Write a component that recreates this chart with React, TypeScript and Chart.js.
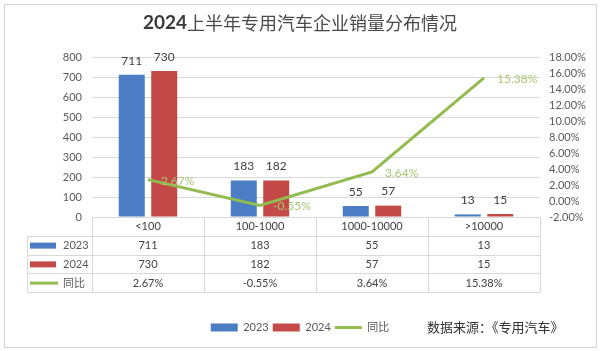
import React, { useEffect, useRef } from 'react';
import { Chart, registerables } from 'chart.js';

Chart.register(...registerables);

const titleYear = '2024';
const titleRest = '上半年专用汽车企业销量分布情况';
const sourceText = '数据来源：《专用汽车》';
const categories = ['<100', '100-1000', '1000-10000', '>10000'];
const seriesNames = ['2023', '2024', '同比'];
const sales2023 = [711, 183, 55, 13];
const sales2024 = [730, 182, 57, 15];
const yoy = [2.67, -0.55, 3.64, 15.38];

const BLUE = '#4A7DC4';
const RED = '#C44A47';
const GREEN = '#92BC4F';
const LABEL_GREEN = '#A9C774';
const TEXT = '#404040';
const AXIS_TEXT = '#595959';
const GRID = '#d9d9d9';
const FAMILY = "Lato, 'Noto Sans CJK SC', sans-serif";
const CJK = "'Noto Sans CJK SC', sans-serif";

const fmtPct = (v: number) => v.toFixed(2) + '%';

const customPlugin = {
  id: 'customDraw',
  beforeDraw(chart: any) {
    const ctx = chart.ctx;
    ctx.save();
    ctx.fillStyle = '#ffffff';
    ctx.fillRect(0, 0, chart.width, chart.height);
    ctx.strokeStyle = '#d4d4d4';
    ctx.lineWidth = 1;
    ctx.strokeRect(4.5, 4.5, 592, 343);
    ctx.restore();
  },
  afterDatasetsDraw(chart: any) {
    const ctx = chart.ctx;
    ctx.save();
    ctx.font = `12px ${FAMILY}`;
    ctx.fillStyle = TEXT;
    ctx.textAlign = 'center';
    ctx.textBaseline = 'middle';
    [0, 1].forEach((di) => {
      const meta = chart.getDatasetMeta(di);
      const vals = chart.data.datasets[di].data as number[];
      meta.data.forEach((el: any, i: number) => {
        ctx.fillText(String(vals[i]), el.x, el.y - 14);
      });
    });
    const lm = chart.getDatasetMeta(2);
    ctx.fillStyle = LABEL_GREEN;
    ctx.textAlign = 'left';
    lm.data.forEach((el: any, i: number) => {
      ctx.fillText(fmtPct(yoy[i]), el.x + 13, el.y + 1);
    });
    ctx.restore();
  },
  afterDraw(chart: any) {
    const ctx = chart.ctx;
    const { left, right, bottom } = chart.chartArea;
    ctx.save();
    ctx.textBaseline = 'middle';
    ctx.font = `bold 19px ${FAMILY}`;
    const w1 = ctx.measureText(titleYear).width;
    ctx.font = `18px ${CJK}`;
    const w2 = ctx.measureText(titleRest).width;
    const tx = 300 - (w1 + w2) / 2;
    ctx.fillStyle = '#3a3a3a';
    ctx.textAlign = 'left';
    ctx.font = `bold 19px ${FAMILY}`;
    ctx.fillText(titleYear, tx, 23);
    ctx.font = `18px ${CJK}`;
    ctx.fillStyle = '#4a4a4a';
    ctx.fillText(titleRest, tx + w1, 23);

    const n = categories.length;
    const cw = (right - left) / n;
    const rowH = 18.75;
    const tableLeft = 27;
    const top = Math.round(bottom);
    ctx.strokeStyle = GRID;
    ctx.lineWidth = 1;
    ctx.beginPath();
    for (let r = 1; r <= 4; r++) {
      const y = Math.round(top + r * rowH) + 0.5;
      ctx.moveTo(tableLeft, y);
      ctx.lineTo(right, y);
    }
    ctx.moveTo(left, top + 0.5);
    ctx.lineTo(right, top + 0.5);
    for (let i = 0; i <= n; i++) {
      const x = Math.round(left + i * cw) + 0.5;
      ctx.moveTo(x, top);
      ctx.lineTo(x, Math.round(top + 4 * rowH) + 0.5);
    }
    ctx.moveTo(tableLeft + 0.5, Math.round(top + rowH));
    ctx.lineTo(tableLeft + 0.5, Math.round(top + 4 * rowH) + 0.5);
    ctx.stroke();

    ctx.font = `11px ${FAMILY}`;
    ctx.fillStyle = TEXT;
    ctx.textAlign = 'center';
    ctx.textBaseline = 'middle';
    const rows: string[][] = [
      categories,
      sales2023.map(String),
      sales2024.map(String),
      yoy.map(fmtPct),
    ];
    rows.forEach((row, r) => {
      const cy = top + r * rowH + rowH / 2 + 0.5;
      row.forEach((t, i) => {
        const cx = chart.scales.x.getPixelForValue(i);
        ctx.fillText(t, cx, cy);
      });
    });
    const keyColors = [BLUE, RED, GREEN];
    seriesNames.forEach((name, k) => {
      const cy = top + (k + 1) * rowH + rowH / 2 + 0.5;
      if (k < 2) {
        ctx.fillStyle = keyColors[k];
        ctx.fillRect(30, cy - 3, 26, 6);
      } else {
        ctx.strokeStyle = GREEN;
        ctx.lineWidth = 3;
        ctx.beginPath();
        ctx.moveTo(30, cy);
        ctx.lineTo(58, cy);
        ctx.stroke();
      }
      ctx.fillStyle = AXIS_TEXT;
      ctx.textAlign = 'left';
      ctx.font = `11px ${FAMILY}`;
      ctx.fillText(name, 63, cy);
    });

    ctx.font = `13px ${CJK}`;
    ctx.fillStyle = '#333333';
    ctx.textAlign = 'left';
    ctx.fillText(sourceText, 427, 327);
    ctx.restore();
  },
};

export default function App() {
  const ref = useRef<HTMLCanvasElement>(null);
  useEffect(() => {
    document.body.style.margin = '0';
    const chart = new Chart(ref.current as HTMLCanvasElement, {
      type: 'bar',
      data: {
        labels: categories,
        datasets: [
          {
            type: 'bar',
            label: seriesNames[0],
            data: sales2023,
            backgroundColor: BLUE,
            yAxisID: 'y',
            order: 2,
            categoryPercentage: 0.58,
            barPercentage: 0.8,
          },
          {
            type: 'bar',
            label: seriesNames[1],
            data: sales2024,
            backgroundColor: RED,
            yAxisID: 'y',
            order: 2,
            categoryPercentage: 0.58,
            barPercentage: 0.8,
          },
          {
            type: 'line',
            label: seriesNames[2],
            data: yoy,
            borderColor: GREEN,
            backgroundColor: GREEN,
            borderWidth: 3,
            pointRadius: 0,
            tension: 0,
            yAxisID: 'y1',
            order: 1,
          },
        ] as any,
      },
      options: {
        responsive: false,
        animation: false,
        layout: { padding: { top: 57, left: 0, right: 0, bottom: 8 } },
        plugins: {
          title: { display: false },
          tooltip: { enabled: false },
          legend: {
            position: 'bottom',
            labels: {
              usePointStyle: true,
              pointStyleWidth: 27,
              boxHeight: 8,
              padding: 4,
              color: AXIS_TEXT,
              font: { size: 11, family: FAMILY },
              sort: (a: any, b: any) => a.datasetIndex - b.datasetIndex,
              generateLabels: (c: any) => {
                const items = (Chart.defaults.plugins.legend.labels as any).generateLabels(c);
                items.forEach((it: any) => {
                  if (it.datasetIndex === 2) {
                    it.pointStyle = 'line';
                    it.strokeStyle = GREEN;
                    it.lineWidth = 3;
                  } else {
                    it.pointStyle = 'rect';
                    it.lineWidth = 0;
                  }
                });
                return items;
              },
            },
          },
        },
        scales: {
          x: {
            grid: { display: false },
            border: { display: false },
            ticks: { display: false },
            afterFit: (s: any) => {
              s.height = 101;
            },
          },
          y: {
            position: 'left',
            min: 0,
            max: 800,
            ticks: { stepSize: 100, autoSkip: false, padding: 10, color: AXIS_TEXT, font: { size: 11, family: FAMILY } },
            grid: { color: GRID, drawTicks: false },
            border: { display: false },
            afterFit: (s: any) => {
              s.width = 92;
            },
          },
          y1: {
            position: 'right',
            min: -2,
            max: 18,
            ticks: {
              stepSize: 2,
              autoSkip: false,
              padding: 9,
              color: AXIS_TEXT,
              font: { size: 11, family: FAMILY },
              callback: (v: any) => fmtPct(Number(v)),
            },
            grid: { display: false, drawTicks: false },
            border: { display: false },
            afterFit: (s: any) => {
              s.width = 60;
            },
          },
        },
      } as any,
      plugins: [customPlugin],
    });
    return () => chart.destroy();
  }, []);
  return (
    <div style={{ width: 600, height: 351 }}>
      <canvas ref={ref} width={600} height={351} style={{ width: 600, height: 351, display: 'block' }} />
    </div>
  );
}
